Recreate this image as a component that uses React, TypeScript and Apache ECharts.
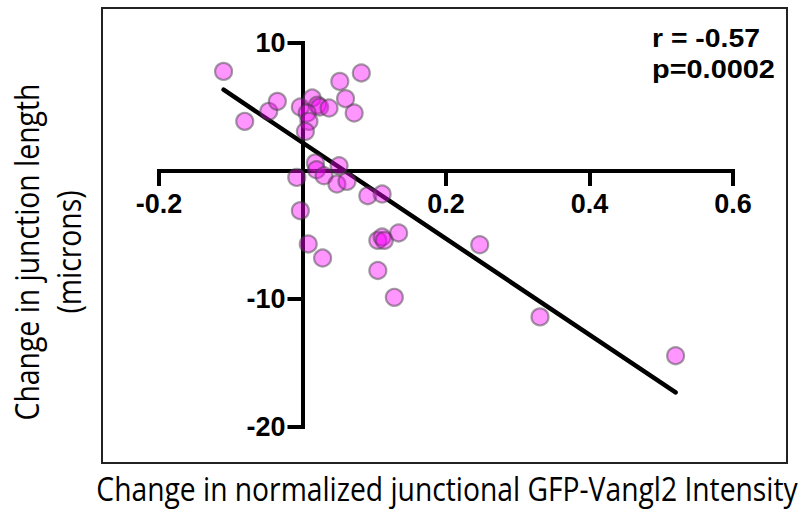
import React, { useEffect, useRef } from "react";
import * as echarts from "echarts";

// Scatter data (change in normalized junctional GFP-Vangl2 intensity vs change in junction length)
const xValues = [
  -0.110, -0.0805, -0.047, -0.035, -0.003, 0.0135, 0.021, 0.024, 0.0065, 0.009,
  0.004, 0.037, 0.052, 0.082, 0.060, 0.072, -0.008, 0.018, 0.0195, 0.030,
  0.051, 0.048, 0.062, 0.091, 0.111, -0.003, 0.008, 0.028, 0.105, 0.111,
  0.114, 0.134, 0.105, 0.128, 0.247, 0.331, 0.520,
];
const yValues = [
  7.78, 3.88, 4.66, 5.44, 5.0, 5.7, 5.15, 5.0, 4.53, 3.88,
  3.09, 4.92, 7.0, 7.66, 5.65, 4.53, -0.5, 0.63, 0.1, -0.37,
  0.41, -1.02, -0.81, -1.93, -1.8, -3.1, -5.7, -6.8, -5.42, -5.16,
  -5.42, -4.84, -7.77, -9.87, -5.76, -11.4, -14.43,
];

// Linear regression line end points
const fitX = [-0.110, 0.520];
const fitY = [6.35, -17.3];

const statLines = ["r = -0.57", "p=0.0002"];
const xTitle = "Change in normalized junctional GFP-Vangl2 Intensity";
const yTitleLines = ["Change in junction length", "(microns)"];

const TITLE_FAMILY = '"Open Sans", sans-serif';
const TICK_FAMILY = '"Liberation Sans", Arial, sans-serif';

const GRID = { left: 159, right: 74, top: 43, bottom: 86 };
const W = 807;
const H = 513;

function textWidth(text: string, font: string): number {
  const ctx = document.createElement("canvas").getContext("2d");
  if (!ctx) return text.length * 10;
  ctx.font = font;
  return ctx.measureText(text).width;
}

function textEl(
  text: string,
  x: number,
  y: number,
  scaleX: number,
  size: number,
  family: string,
  weight: string,
  align: string,
  rotation = 0
) {
  return {
    type: "text",
    x,
    y,
    rotation,
    scaleX,
    silent: true,
    style: {
      text,
      fill: "#000",
      fontSize: size,
      fontFamily: family,
      fontWeight: weight,
      textAlign: align,
      textVerticalAlign: "middle",
      align,
      verticalAlign: "middle",
    },
  };
}

function scaleFor(text: string, target: number, size: number, family: string, weight: string) {
  const w = textWidth(text, `${weight} ${size}px ${family}`);
  return w > 0 ? target / w : 1;
}

export default function App() {
  const ref = useRef<HTMLDivElement>(null);

  useEffect(() => {
    if (!ref.current) return;
    const chart = echarts.init(ref.current, undefined, { renderer: "svg" });

    const points = xValues.map((x, i) => [x, yValues[i]]);
    const fit = fitX.map((x, i) => [x, fitY[i]]);

    const xMin = -0.2, xMax = 0.6, yMin = -20, yMax = 10;
    const gw = W - GRID.left - GRID.right;
    const gh = H - GRID.top - GRID.bottom;
    // put the axes through the origin
    const xOffset = -(gh * (0 - yMin)) / (yMax - yMin);
    const yOffset = -(gw * (0 - xMin)) / (xMax - xMin);

    const tickLabel = {
      color: "#000",
      fontFamily: TICK_FAMILY,
      fontWeight: "bold",
      fontSize: 27,
    };

    const yTitleScale = scaleFor(yTitleLines[0], 337, 32, TITLE_FAMILY, "normal");
    const xTitleScale = scaleFor(xTitle, 702, 32, TITLE_FAMILY, "normal");

    chart.setOption({
      animation: false,
      backgroundColor: "#fff",
      grid: GRID,
      xAxis: {
        type: "value",
        min: xMin,
        max: xMax,
        interval: 0.2,
        position: "bottom",
        offset: xOffset,
        axisLine: {
          onZero: false,
          lineStyle: { color: "#000", width: 4, cap: "square" },
        },
        axisTick: { show: true, inside: false, length: 15, lineStyle: { color: "#000", width: 4 } },
        axisLabel: {
          ...tickLabel,
          margin: 19,
          formatter: (v: number) => (Math.abs(v) < 1e-9 ? "" : v.toFixed(1)),
        },
        splitLine: { show: false },
      },
      yAxis: {
        type: "value",
        min: yMin,
        max: yMax,
        interval: 10,
        position: "left",
        offset: yOffset,
        axisLine: {
          onZero: false,
          lineStyle: { color: "#000", width: 4, cap: "square" },
        },
        axisTick: { show: true, inside: false, length: 15, lineStyle: { color: "#000", width: 4 } },
        axisLabel: {
          ...tickLabel,
          margin: 17,
          formatter: (v: number) => (Math.abs(v) < 1e-9 ? "" : String(Math.round(v))),
        },
        splitLine: { show: false },
      },
      series: [
        {
          type: "line",
          data: fit,
          showSymbol: false,
          silent: true,
          z: 2,
          lineStyle: { color: "#000", width: 4.5, cap: "round" },
        },
        {
          type: "scatter",
          data: points,
          symbolSize: 17,
          silent: true,
          z: 3,
          itemStyle: {
            color: "rgba(255,0,255,0.52)",
            borderColor: "rgba(60,60,60,0.6)",
            borderWidth: 2.2,
          },
        },
      ],
      graphic: [
        {
          type: "rect",
          silent: true,
          shape: { x: 102, y: 8, width: 685, height: 455 },
          style: { fill: "none", stroke: "#222", lineWidth: 2 },
        },
        textEl(statLines[0], 652, 37.5, scaleFor(statLines[0], 108, 26, TICK_FAMILY, "bold"), 26, TICK_FAMILY, "bold", "left"),
        textEl(statLines[1], 652, 69.5, scaleFor(statLines[1], 123, 26, TICK_FAMILY, "bold"), 26, TICK_FAMILY, "bold", "left"),
        textEl(xTitle, 447, 489, xTitleScale, 32, TITLE_FAMILY, "normal", "center"),
        textEl(yTitleLines[0], 27, 252, yTitleScale, 32, TITLE_FAMILY, "normal", "center", Math.PI / 2),
        textEl(yTitleLines[1], 69, 252, yTitleScale, 32, TITLE_FAMILY, "normal", "center", Math.PI / 2),
      ],
    });

    return () => chart.dispose();
  }, []);

  return (
    <div
      ref={ref}
      style={{ position: "fixed", left: 0, top: 0, width: W, height: H, background: "#fff" }}
    />
  );
}
